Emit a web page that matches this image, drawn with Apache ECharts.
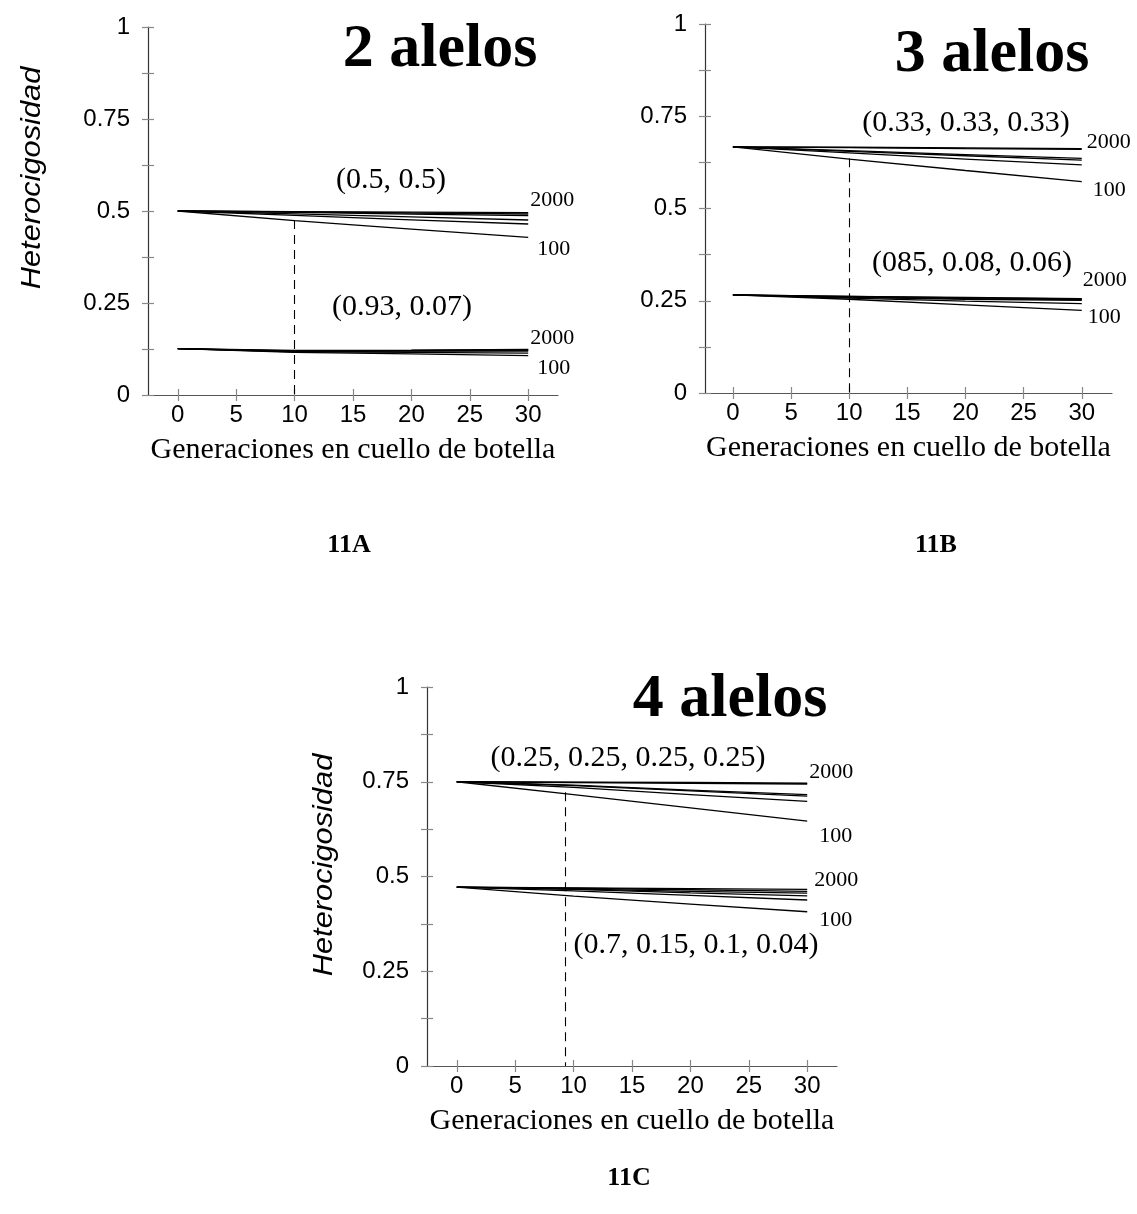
<!DOCTYPE html>
<html>
<head>
<meta charset="utf-8">
<script src="https://cdn.jsdelivr.net/npm/echarts@6/dist/echarts.min.js"></script>
<style>
  html, body { margin: 0; padding: 0; background: #fff; }
  #chart { width: 1137px; height: 1214px; }
</style>
</head>
<body>
<div id="chart"></div>
<script>
// Generations in bottleneck at which heterozygosity was recorded
const generations = [0, 10, 20, 30];
const xTickValues = [0, 5, 10, 15, 20, 25, 30];
const yLabelValues = [0, 0.25, 0.5, 0.75, 1];

// 2 alleles, (0.5, 0.5): largest population first, smallest (100) last
const twoEven = [
  [0.500, 0.4985, 0.4970, 0.4955],
  [0.500, 0.4975, 0.4945, 0.4918],
  [0.500, 0.4960, 0.4915, 0.4872],
  [0.500, 0.4920, 0.4840, 0.4755],
  [0.500, 0.4880, 0.4760, 0.4647],
  [0.500, 0.4740, 0.4510, 0.4285]
];
// 2 alleles, (0.93, 0.07)
const twoSkewed = [
  [0.126, 0.121, 0.122, 0.124],
  [0.126, 0.120, 0.121, 0.123],
  [0.126, 0.119, 0.120, 0.121],
  [0.126, 0.118, 0.119, 0.119],
  [0.126, 0.117, 0.116, 0.114],
  [0.126, 0.116, 0.112, 0.107]
];
// 3 alleles, (0.33, 0.33, 0.33)
const threeEven = [
  [0.667, 0.666, 0.664, 0.662],
  [0.667, 0.665, 0.662, 0.660],
  [0.667, 0.657, 0.646, 0.636],
  [0.667, 0.655, 0.643, 0.631],
  [0.667, 0.651, 0.634, 0.618],
  [0.667, 0.634, 0.603, 0.573]
];
// 3 alleles, (0.85, 0.08, 0.06)
const threeSkewed = [
  [0.266, 0.262, 0.259, 0.256],
  [0.266, 0.262, 0.258, 0.255],
  [0.266, 0.260, 0.256, 0.253],
  [0.266, 0.259, 0.254, 0.251],
  [0.266, 0.257, 0.249, 0.242],
  [0.266, 0.254, 0.239, 0.224]
];
// 4 alleles, (0.25, 0.25, 0.25, 0.25)
const fourEven = [
  [0.750, 0.749, 0.748, 0.746],
  [0.750, 0.748, 0.746, 0.744],
  [0.750, 0.741, 0.728, 0.716],
  [0.750, 0.740, 0.726, 0.712],
  [0.750, 0.735, 0.716, 0.698],
  [0.750, 0.716, 0.681, 0.646]
];
// 4 alleles, (0.7, 0.15, 0.1, 0.04)
const fourSkewed = [
  [0.472, 0.470, 0.468, 0.466],
  [0.472, 0.469, 0.465, 0.461],
  [0.472, 0.467, 0.461, 0.456],
  [0.472, 0.466, 0.457, 0.449],
  [0.472, 0.462, 0.450, 0.438],
  [0.472, 0.448, 0.427, 0.407]
];

// Population size labels for the top and bottom curve of each bundle
const topSizeLabel = '2000';
const bottomSizeLabel = '100';

// Reference (dashed) line per panel: [generation, heterozygosity at top]
const refLines = [[10, 0.4755], [10, 0.636], [9.3, 0.722]];

const SERIF = "'Liberation Serif', 'Times New Roman', serif";
const SANS = "'Liberation Sans', Arial, sans-serif";

const panels = [
  {
    grid: { left: 148, top: 27, width: 410, height: 368 },
    xMin: -2.55, xMax: 32.55,
    bundles: [
      { values: twoEven, topOff: [2, -12], botOff: [9, 12] },
      { values: twoSkewed, topOff: [2, -11], botOff: [9, 13] }
    ]
  },
  {
    grid: { left: 705, top: 24, width: 407, height: 369 },
    xMin: -2.4, xMax: 32.6,
    bundles: [
      { values: threeEven, topOff: [5, -7], botOff: [11, 9] },
      { values: threeSkewed, topOff: [1, -18], botOff: [6, 7] }
    ]
  },
  {
    grid: { left: 427, top: 687, width: 410, height: 379 },
    xMin: -2.55, xMax: 32.55,
    bundles: [
      { values: fourEven, topOff: [2, -11], botOff: [12, 15] },
      { values: fourSkewed, topOff: [7, -9], botOff: [12, 8] }
    ]
  }
];

const grid = [], xAxis = [], yAxis = [], series = [];

panels.forEach(function (p, i) {
  grid.push(Object.assign({ containLabel: false }, p.grid));

  // main x axis: line, outer ticks, labels, name
  xAxis.push({
    type: 'value', gridIndex: i, position: 'bottom',
    min: p.xMin, max: p.xMax,
    splitLine: { show: false },
    axisLine: { show: true, onZero: false, lineStyle: { color: '#555', width: 1.2 } },
    axisTick: { show: true, inside: false, length: 6, customValues: xTickValues, lineStyle: { color: '#888', width: 1.2 } },
    axisLabel: { show: true, customValues: xTickValues, margin: 8, color: '#000', fontFamily: SANS, fontSize: 24 },
    name: 'Generaciones en cuello de botella',
    nameLocation: 'middle', nameGap: 40,
    nameTextStyle: { color: '#000', fontFamily: SERIF, fontSize: 30 }
  });
  // companion x axis: inner half of the crossing ticks
  xAxis.push({
    type: 'value', gridIndex: i, position: 'bottom',
    min: p.xMin, max: p.xMax,
    splitLine: { show: false },
    axisLine: { show: false, onZero: false },
    axisTick: { show: true, inside: true, length: 6, customValues: xTickValues, lineStyle: { color: '#888', width: 1.2 } },
    axisLabel: { show: false }
  });

  yAxis.push({
    type: 'value', gridIndex: i, position: 'left',
    min: 0, max: 1, interval: 0.125,
    splitLine: { show: false },
    axisLine: { show: true, onZero: false, lineStyle: { color: '#333', width: 1.2 } },
    axisTick: { show: true, inside: false, length: 6, lineStyle: { color: '#888', width: 1.2 } },
    axisLabel: { show: true, customValues: yLabelValues, margin: 18, color: '#000', fontFamily: SANS, fontSize: 24,
      formatter: function (v) { return String(v); } }
  });
  yAxis.push({
    type: 'value', gridIndex: i, position: 'left',
    min: 0, max: 1, interval: 0.125,
    splitLine: { show: false },
    axisLine: { show: false, onZero: false },
    axisTick: { show: true, inside: true, length: 6, lineStyle: { color: '#888', width: 1.2 } },
    axisLabel: { show: false }
  });

  p.bundles.forEach(function (b, bi) {
    b.values.forEach(function (vals, li) {
      const isTop = li === 0;
      const isBottom = li === b.values.length - 1;
      const s = {
        type: 'line',
        xAxisIndex: 2 * i, yAxisIndex: 2 * i,
        data: generations.map(function (g, k) { return [g, vals[k]]; }),
        showSymbol: false, symbol: 'none',
        silent: true, animation: false,
        lineStyle: { color: '#000', width: 1.3 },
        z: 3
      };
      if (isTop || isBottom) {
        s.endLabel = {
          show: true,
          formatter: isTop ? topSizeLabel : bottomSizeLabel,
          distance: 0,
          offset: isTop ? b.topOff : b.botOff,
          align: 'left', verticalAlign: 'middle',
          color: '#000', fontFamily: SERIF, fontSize: 22
        };
      }
      if (bi === 0 && li === 0) {
        s.markLine = {
          silent: true, symbol: 'none', animation: false,
          label: { show: false },
          lineStyle: { color: '#000', width: 1.1, type: [9, 6] },
          data: [[
            { coord: [refLines[i][0], refLines[i][1]] },
            { coord: [refLines[i][0], 0] }
          ]]
        };
      }
      series.push(s);
    });
  });
});

function label(text, x, y, font, extra) {
  return Object.assign({
    type: 'text', x: x, y: y, silent: true,
    style: { text: text, font: font, fill: '#000', align: 'center', verticalAlign: 'middle' }
  }, extra || {});
}

const graphic = [
  // panel titles
  label('2 alelos', 440, 50, 'bold 62px ' + SERIF),
  label('3 alelos', 992, 55, 'bold 62px ' + SERIF),
  label('4 alelos', 730, 700, 'bold 62px ' + SERIF),
  // initial allele frequencies for each bundle
  label('(0.5, 0.5)', 391, 180, '30px ' + SERIF),
  label('(0.93, 0.07)', 402, 307, '30px ' + SERIF),
  label('(0.33, 0.33, 0.33)', 966, 123, '30px ' + SERIF),
  label('(085, 0.08, 0.06)', 972, 263, '30px ' + SERIF),
  label('(0.25, 0.25, 0.25, 0.25)', 628, 758, '30px ' + SERIF),
  label('(0.7, 0.15, 0.1, 0.04)', 696, 945, '30px ' + SERIF),
  // y-axis titles
  label('Heterocigosidad', 32, 178, 'italic 28px ' + SANS, { rotation: Math.PI / 2, scaleX: 1.1 }),
  label('Heterocigosidad', 324, 865, 'italic 28px ' + SANS, { rotation: Math.PI / 2, scaleX: 1.1 }),
  // figure captions
  label('11A', 349, 545, 'bold 26px ' + SERIF),
  label('11B', 936, 545, 'bold 26px ' + SERIF),
  label('11C', 629, 1178, 'bold 26px ' + SERIF)
];

const chart = echarts.init(document.getElementById('chart'), null, { renderer: 'canvas' });
chart.setOption({
  backgroundColor: '#fff',
  animation: false,
  grid: grid,
  xAxis: xAxis,
  yAxis: yAxis,
  series: series,
  graphic: graphic
});
</script>
</body>
</html>
